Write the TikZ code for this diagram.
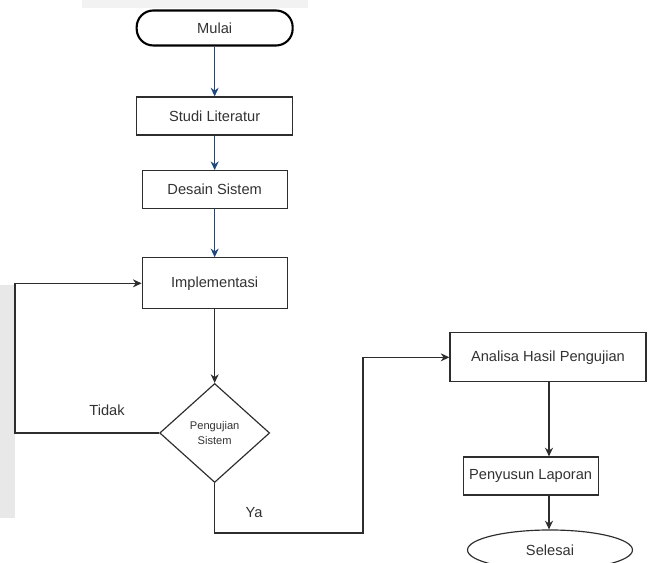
\documentclass[tikz,border=0pt]{standalone}
\usepackage{fontspec}
\setmainfont{Liberation Sans}
\usetikzlibrary{arrows.meta,shapes.geometric}
\definecolor{panahbiru}{RGB}{31,73,125}
\definecolor{garis}{RGB}{45,45,45}
\definecolor{teks}{RGB}{50,50,50}

\begin{document}
\begin{tikzpicture}[line width=1pt,>={Stealth[length=0.26cm,width=0.24cm]},
  proses/.style={draw=garis,rectangle,inner sep=0pt,text=teks,font=\fontsize{12.5}{14}\selectfont},
  keputusan/.style={draw=garis,diamond,inner sep=0pt,minimum width=3.3cm,minimum height=2.97cm,
    align=center,text=teks,font=\fontsize{9.5}{12}\selectfont},
  label/.style={text=teks,font=\fontsize{12.5}{14}\selectfont},
  alur/.style={->,draw=garis},
  alurbiru/.style={->,draw=panahbiru}]
\useasboundingbox (0,0) rectangle (19.47,16.89);
% latar abu-abu tipis
\fill[black!5] (2.46,16.65) rectangle (9.24,16.89);
\fill[black!9] (0,1.35) rectangle (0.45,8.34);
% kolom kiri
\node[proses,rounded corners=0.5cm,line width=1.8pt,draw=black,minimum width=4.68cm,minimum height=1.05cm] (mulai) at (6.44,16.05) {Mulai};
\node[proses,minimum width=4.68cm,minimum height=1.14cm] (studi) at (6.44,13.41) {Studi Literatur};
\node[proses,minimum width=4.35cm,minimum height=1.14cm] (desain) at (6.44,11.2) {Desain Sistem};
\node[proses,minimum width=4.35cm,minimum height=1.53cm] (impl) at (6.44,8.39) {Implementasi};
\node[keputusan] (uji) at (6.44,3.9) {Pengujian\\Sistem};
% kolom kanan
\node[proses,minimum width=5.88cm,minimum height=1.47cm] (analisa) at (16.44,6.17) {Analisa Hasil Pengujian};
\node[proses,minimum width=4.05cm,minimum height=1.14cm] (susun) at (15.92,2.61) {Penyusun Laporan};
\node[proses,ellipse,minimum width=4.95cm,minimum height=1.2cm] (selesai) at (16.5,0.39) {Selesai};
% panah utama
\draw[alurbiru] (mulai.south) -- (studi.north);
\draw[alurbiru] (studi.south) -- (desain.north);
\draw[alurbiru] (desain.south) -- (impl.north);
\draw[alur] (impl.south) -- (uji.north);
% cabang Tidak
\coordinate (kiri) at (0.45,3.9);
\draw[alur] (uji.west) -- (kiri) |- (impl.west);
\node[label] (tidak) at (3.21,4.59) {Tidak};
% cabang Ya
\coordinate (bawah) at (6.44,0.9);
\coordinate (belok) at (10.89,0.9);
\draw[alur] (uji.south) -- (bawah) -- (belok) |- (analisa.west);
\node[label] (ya) at (7.62,1.5) {Ya};
% ke laporan dan selesai
\coordinate (tengah) at (16.47,6.17);
\draw[alur] (tengah |- analisa.south) -- (tengah |- susun.north);
\draw[alur] (tengah |- susun.south) -- (tengah |- selesai.north);
\end{tikzpicture}
\end{document}
